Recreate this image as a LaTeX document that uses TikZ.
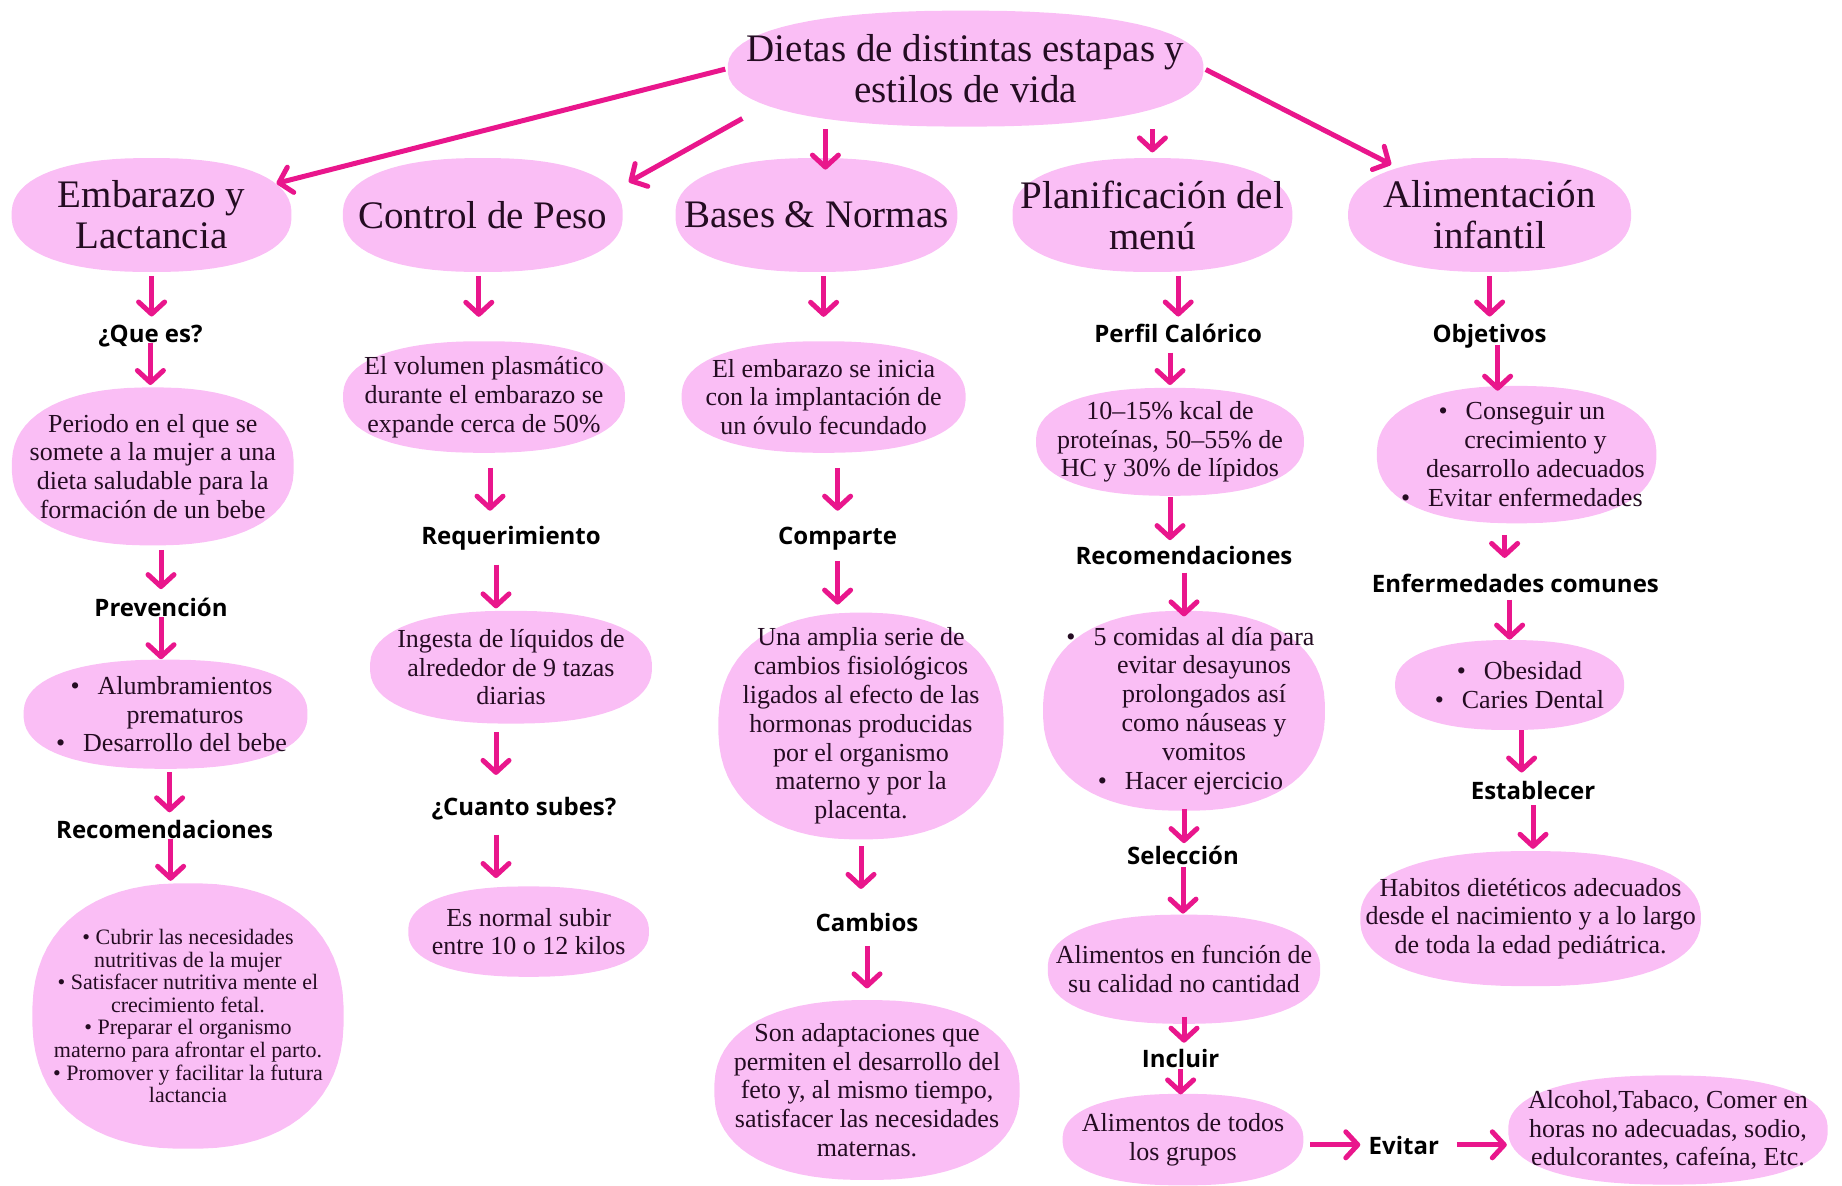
\documentclass[tikz,border=0pt]{standalone}
\usepackage{fontspec}
\setmainfont{Liberation Serif}
\newfontfamily\tagfont{Open Sans}
\usetikzlibrary{arrows.meta}
\usetikzlibrary{calc}
\definecolor{blobpink}{RGB}{250, 190, 245}
\definecolor{arrowpink}{RGB}{233, 22, 140}
\definecolor{ink}{RGB}{36, 12, 34}
\newcommand{\bul}{\llap{\textbullet\hspace{9pt}}}

\begin{document}
\begin{tikzpicture}[x=1pt,y=-1pt,
	blob/.style={rectangle,inner sep=0pt,
		path picture={\fill[blobpink] let \p1=(path picture bounding box.north east),
			\p2=(path picture bounding box.center) in
			plot[domain=2.5:362.5,samples=73,variable=\t]
			({\x2+(\x1-\x2)*sign(cos(\t))*abs(cos(\t))^0.85},
			 {\y2+(\y1-\y2)*sign(sin(\t))*abs(sin(\t))^0.85}) -- cycle;}},
	head/.style={font=\fontsize{19.5}{20.5}\selectfont,text=ink,align=center,inner sep=0pt},
	txt/.style={font=\fontsize{13}{14.4}\selectfont,text=ink,align=center,inner sep=0pt},
	small/.style={font=\fontsize{11}{11.3}\selectfont,text=ink,align=center,inner sep=0pt},
	tag/.style={font=\tagfont\bfseries\fontsize{12}{13}\selectfont,inner sep=0pt,
		text height=12.6pt,text depth=2.5pt},
	flow/.style={draw=arrowpink,line width=2.5pt,
		-{Straight Barb[length=6pt,width=13pt,round]},
		shorten <=1pt,shorten >=1.5pt}]
	\useasboundingbox (0,0) rectangle (921,592.5);
	
	\node[blob,minimum width=238pt,minimum height=58pt,
		label={[head]center:{Dietas de distintas estapas y\\estilos de vida}}] (title) at (482.8,34.3) {};
	
	\node[blob,minimum width=140pt,minimum height=57pt,
		label={[head]center:{Embarazo y\\Lactancia}}] (emb) at (75.8,107.5) {};
	\node[blob,minimum width=140pt,minimum height=57pt,
		label={[head]center:{Control de Peso}}] (ctrl) at (241.4,107.5) {};
	\node[blob,minimum width=141pt,minimum height=57pt,
		label={[head]center:{Bases \& Normas}}] (bases) at (408.2,107.5) {};
	\node[blob,minimum width=140pt,minimum height=57pt,
		label={[head]center:{Planificación del\\menú}}] (planif) at (576.2,107.5) {};
	\node[blob,minimum width=141.5pt,minimum height=57pt,
		label={[head]center:{Alimentación\\infantil}}] (alim) at (744.8,107.5) {};
	
	\draw[flow,shorten >=-8pt] (title.west) -- (emb);
	\draw[flow,shorten <=-8.7pt,shorten >=3.2pt] (title.south west) -- (ctrl.12);
	\draw[flow,shorten >=-6pt] ([xshift=4.5pt]bases.north |- title.south) -- ([xshift=4.5pt]bases.north);
	\draw[flow,shorten >=2.6pt] (planif.north |- title.south) -- (planif.north);
	\draw[flow,shorten >=-7.6pt] (title.east) -- (alim);
	
	% Embarazo y Lactancia
	\node[tag] (queEs) at (75.2,166.2) {¿Que es?};
	\node[blob,minimum width=141pt,minimum height=79pt,
		label={[txt]center:{Periodo en el que se\\somete a la mujer a una\\dieta saludable para la\\formación de un bebe}}] (periodo) at (76.4,233.2) {};
	\node[tag] (prevencion) at (80.5,303) {Prevención};
	\node[blob,minimum width=142pt,minimum height=54.6pt,
		label={[txt,xshift=9.7pt]center:{\bul Alumbramientos\\prematuros\\\bul Desarrollo del bebe}}] (prevList) at (82.8,357.1) {};
	\node[tag] (recom1) at (82.3,414.1) {Recomendaciones};
	\node[blob,minimum width=155.7pt,minimum height=132.8pt,
		label={[small]center:{\textbullet\ Cubrir las necesidades\\nutritivas de la mujer\\\textbullet\ Satisfacer nutritiva mente el\\crecimiento fetal.\\\textbullet\ Preparar el organismo\\materno para afrontar el parto.\\\textbullet\ Promover y facilitar la futura\\lactancia}}] (recomList) at (94,508) {};
	
	\draw[flow,shorten <=2pt,shorten >=0.2pt] (emb.south) -- (emb.south |- queEs.north);
	\draw[flow,shorten <=-2.3pt,shorten >=1pt] (queEs.south) -- (queEs.south |- periodo.north);
	\draw[flow,shorten <=2pt,shorten >=0.7pt] (prevencion.north |- periodo.south) -- (prevencion.north);
	\draw[flow,shorten <=-2.3pt,shorten >=0pt] (prevencion.south) -- (prevencion.south |- prevList.north);
	\draw[flow,shorten <=1.5pt,shorten >=0.2pt] ([xshift=2pt]prevList.south) -- ([xshift=2pt]prevList.south |- recom1.north);
	\draw[flow,shorten <=-2.3pt,shorten >=1pt] ([xshift=3pt]recom1.south) -- ([xshift=3pt]recom1.south |- recomList.north);
	
	% Control de Peso
	\node[blob,minimum width=141pt,minimum height=55.8pt,
		label={[txt]center:{El volumen plasmático\\durante el embarazo se\\expande cerca de 50\%}}] (volumen) at (242,198.5) {};
	\node[tag] (requerimiento) at (255.5,267.3) {Requerimiento};
	\node[blob,minimum width=141pt,minimum height=56.4pt,
		label={[txt]center:{Ingesta de líquidos de\\alrededor de 9 tazas\\diarias}}] (ingesta) at (255.5,333.6) {};
	\node[tag] (cuanto) at (262,402.9) {¿Cuanto subes?};
	\node[blob,minimum width=120.4pt,minimum height=45.2pt,
		label={[txt]center:{Es normal subir\\entre 10 o 12 kilos}}] (normal) at (264.3,465.8) {};
	
	\draw[flow,shorten <=2pt,shorten >=12pt] ([xshift=-2pt]ctrl.south) -- ([xshift=-2pt]ctrl.south |- volumen.north);
	\draw[flow,shorten <=7.3pt,shorten >=4.2pt] ([xshift=3pt]volumen.south) -- ([xshift=3pt]volumen.south |- requerimiento.north);
	\draw[flow,shorten <=7.2pt,shorten >=1pt] ([xshift=-7.5pt]requerimiento.south) -- ([xshift=-7.5pt]requerimiento.south |- ingesta.north);
	\draw[flow,shorten <=4pt,shorten >=7.7pt] ([xshift=-7.5pt]ingesta.south) -- ([xshift=-7.5pt]ingesta.south |- cuanto.north);
	\draw[flow,shorten <=6.7pt,shorten >=4pt] ([xshift=-14pt]cuanto.south) -- ([xshift=-14pt]cuanto.south |- normal.north);
	
	% Bases & Normas
	\node[blob,minimum width=142pt,minimum height=55.8pt,
		label={[txt]center:{El embarazo se inicia\\con la implantación de\\un óvulo fecundado}}] (inicio) at (411.8,198.5) {};
	\node[tag] (comparte) at (418.8,267.3) {Comparte};
	\node[blob,minimum width=142.7pt,minimum height=113.4pt,
		label={[txt]center:{Una amplia serie de\\cambios fisiológicos\\ligados al efecto de las\\hormonas producidas\\por el organismo\\materno y por la\\placenta.}}] (amplia) at (430.5,363) {};
	\node[tag] (cambios) at (433.5,460.5) {Cambios};
	\node[blob,minimum width=152.7pt,minimum height=90pt,
		label={[txt]center:{Son adaptaciones que\\permiten el desarrollo del\\feto y, al mismo tiempo,\\satisfacer las necesidades\\maternas.}}] (adapt) at (433.5,545) {};
	
	\draw[flow,shorten <=2pt,shorten >=12pt] (inicio.north |- bases.south) -- (inicio.north);
	\draw[flow,shorten <=7.3pt,shorten >=4.2pt] (comparte.north |- inicio.south) -- (comparte.north);
	\draw[flow,shorten <=5.4pt,shorten >=3.8pt] (comparte.south) -- (comparte.south |- amplia.north);
	\draw[flow,shorten <=3.2pt,shorten >=8.3pt] (amplia.south) -- (amplia.south |- cambios.north);
	\draw[flow,shorten <=4.7pt,shorten >=5.6pt] (cambios.south) -- (cambios.south |- adapt.north);
	
	% Planificacion del menu
	\node[tag] (perfil) at (589.1,166.2) {Perfil Calórico};
	\node[blob,minimum width=134pt,minimum height=54pt,
		label={[txt]center:{10–15\% kcal de\\proteínas, 50–55\% de\\HC y 30\% de lípidos}}] (kcal) at (585,220.9) {};
	\node[tag] (recom4) at (592,277.3) {Recomendaciones};
	\node[blob,minimum width=141pt,minimum height=100pt,
		label={[txt,xshift=10pt]center:{\bul 5 comidas al día para\\evitar desayunos\\prolongados así\\como náuseas y\\vomitos\\\bul Hacer ejercicio}}] (comidas) at (592,355.4) {};
	\node[tag] (seleccion) at (591.5,427) {Selección};
	\node[blob,minimum width=136.3pt,minimum height=54.6pt,
		label={[txt]center:{Alimentos en función de\\su calidad no cantidad}}] (funcion) at (592,484.6) {};
	\node[tag] (incluir) at (590.3,528.6) {Incluir};
	\node[blob,minimum width=120.4pt,minimum height=45.8pt,
		label={[txt]center:{Alimentos de todos\\los grupos}}] (todos) at (591.5,569.8) {};
	\node[tag] (evitar) at (701.9,572.4) {Evitar};
	\node[blob,minimum width=159.8pt,minimum height=54.6pt,
		label={[txt]center:{Alcohol,Tabaco, Comer en\\horas no adecuadas, sodio,\\edulcorantes, cafeína, Etc.}}] (alcohol) at (834,565) {};
	
	\draw[flow,shorten <=2pt,shorten >=0.2pt] (perfil.north |- planif.south) -- (perfil.north);
	\draw[flow,shorten <=2.4pt,shorten >=1.2pt] (kcal.north |- perfil.south) -- (kcal.north);
	\draw[flow,shorten <=0.6pt,shorten >=-0.5pt] (kcal.south) -- (kcal.south |- recom4.north);
	\draw[flow,shorten <=1.2pt,shorten >=-3pt] (recom4.south) -- (recom4.south |- comidas.north);
	\draw[flow,shorten <=-1.2pt,shorten >=-2.3pt] (comidas.south) -- (comidas.south |- seleccion.north);
	\draw[flow,shorten <=-1.1pt,shorten >=0.3pt] (seleccion.south) -- (seleccion.south |- funcion.north);
	\draw[flow,shorten <=-3.8pt,shorten >=-0.5pt] (funcion.south) -- (funcion.south |- incluir.north);
	\draw[flow,shorten <=-1.7pt,shorten >=-0.5pt] (incluir.south) -- (incluir.south |- todos.north);
	\draw[flow,shorten <=3.2pt,shorten >=4pt] (todos.east |- evitar.west) -- (evitar.west);
	\draw[flow,shorten <=8.8pt,shorten >=0.5pt] (evitar.east) -- (evitar.east -| alcohol.west);
	
	% Alimentacion infantil
	\node[tag] (objetivos) at (744.8,166.2) {Objetivos};
	\node[blob,minimum width=139.8pt,minimum height=68.7pt,
		label={[txt,xshift=9.4pt]center:{\bul Conseguir un\\crecimiento y\\desarrollo adecuados\\\bul Evitar enfermedades}}] (objList) at (758.3,227.3) {};
	\node[tag] (enfermedades) at (757.7,291.4) {Enfermedades comunes};
	\node[blob,minimum width=114.5pt,minimum height=45pt,
		label={[txt,xshift=11.7pt]center:{\bul Obesidad\\\bul Caries Dental}}] (obesidad) at (754.8,342.5) {};
	\node[tag] (establecer) at (766.5,394.7) {Establecer};
	\node[blob,minimum width=170.4pt,minimum height=67.6pt,
		label={[txt]center:{Habitos dietéticos adecuados\\desde el nacimiento y a lo largo\\de toda la edad pediátrica.}}] (habitos) at (765.3,459.3) {};
	
	\draw[flow,shorten <=2pt,shorten >=0.2pt] (alim.south) -- (alim.south |- objetivos.north);
	\draw[flow,shorten <=-1.7pt,shorten >=-2.6pt] ([xshift=4pt]objetivos.south) -- ([xshift=4pt]objetivos.south |- objList.north);
	\draw[flow,shorten <=5.6pt,shorten >=4.7pt] ([xshift=-6pt]objList.south) -- ([xshift=-6pt]objList.south |- enfermedades.north);
	\draw[flow,shorten <=0.6pt,shorten >=0pt] (obesidad.north |- enfermedades.south) -- (obesidad.north);
	\draw[flow,shorten <=0pt,shorten >=0.7pt] ([xshift=6pt]obesidad.south) -- ([xshift=6pt]obesidad.south |- establecer.north);
	\draw[flow,shorten <=0.1pt,shorten >=0.9pt] (establecer.south) -- (establecer.south |- habitos.north);
\end{tikzpicture}
\end{document}
